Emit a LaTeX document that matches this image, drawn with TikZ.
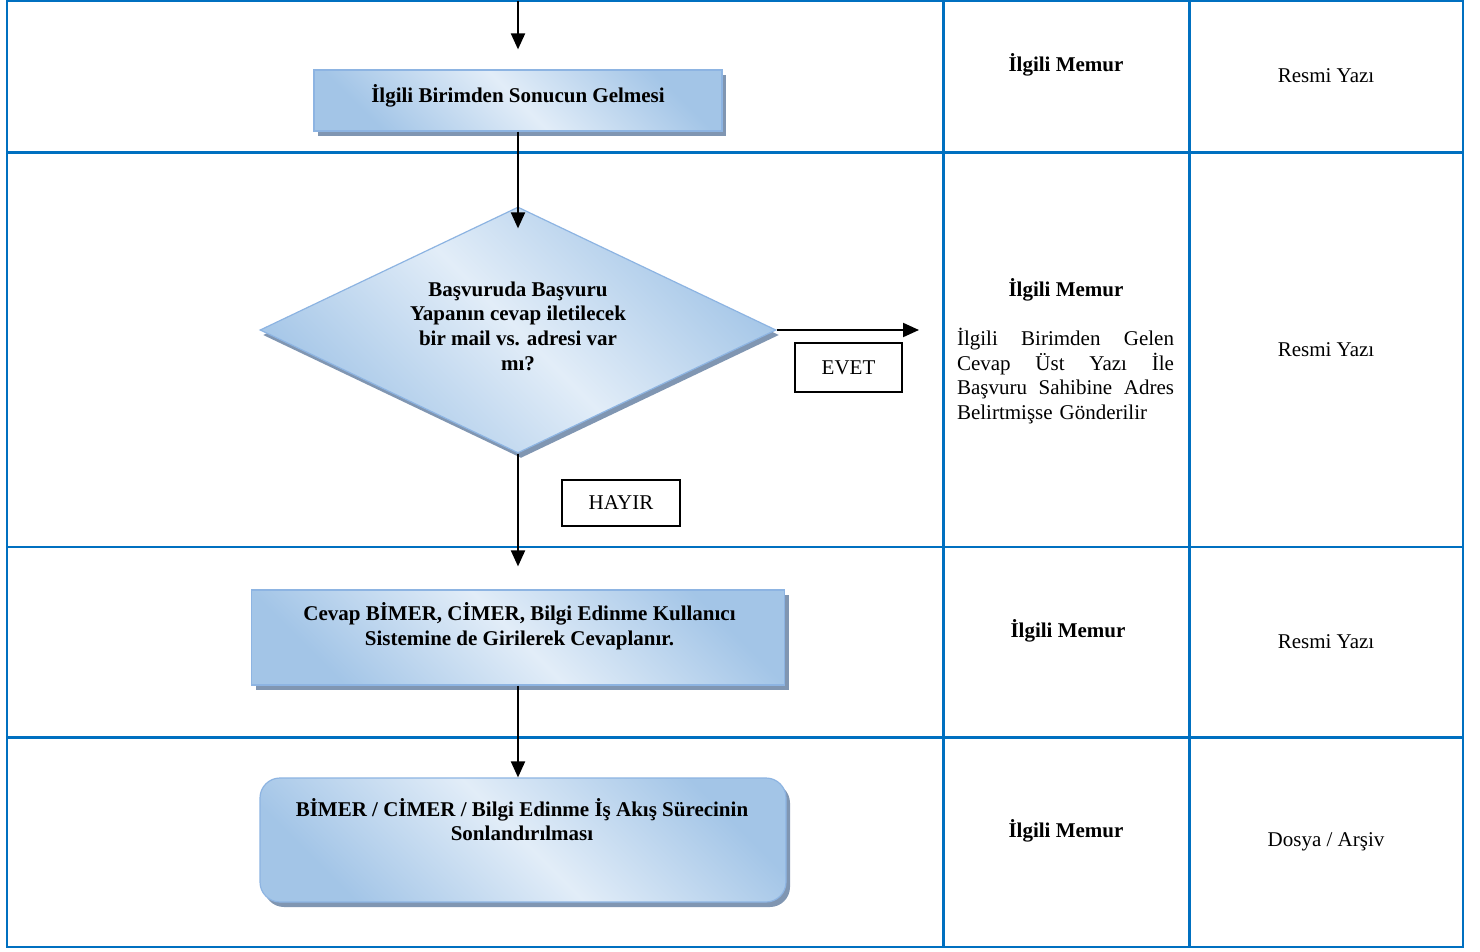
\documentclass[tikz,border=0pt]{standalone}
\usepackage{fontspec}
\setmainfont{Liberation Serif}
\usetikzlibrary{shapes.geometric,shadows,arrows.meta}
\definecolor{tblue}{HTML}{0070C0}
\definecolor{gdark}{HTML}{A3C5E7}
\definecolor{glight}{HTML}{E2EDF8}
\definecolor{gborder}{HTML}{8DB4E2}
\definecolor{gshadow}{HTML}{8096B2}
\newcommand{\jline}[1]{\leavevmode\hbox to 217pt{#1}}
\begin{document}
\begin{tikzpicture}[x=1pt,y=-1pt,
 grid/.style={draw=tblue,line width=2.2pt},
 grad/.style={top color=gdark,bottom color=gdark,middle color=glight,shading angle=-45},
 procbox/.style={grad,draw=gborder,line width=1.2pt,inner sep=0pt,
   general shadow={fill=gshadow,shadow xshift=4pt,shadow yshift=-5pt}},
 btext/.style={font=\fontsize{21pt}{24.6pt}\selectfont\bfseries,align=center,inner sep=0pt},
 ntext/.style={font=\fontsize{21pt}{24.6pt}\selectfont,align=center,inner sep=0pt},
 flow/.style={draw=black,line width=2pt,-{Triangle[length=16pt,width=14pt]}},
 labelbox/.style={ntext,draw=black,line width=1.8pt}
]
\useasboundingbox[fill=white] (0,0) rectangle (1480,952);

% table grid
\draw[grid] (7,1) rectangle (1463,947);
\draw[grid] (943.5,1) -- (943.5,947);
\draw[grid] (1189.5,1) -- (1189.5,947);
\draw[grid] (7,152.5) -- (1463,152.5);
\draw[grid] (7,547) -- (1463,547);
\draw[grid] (7,737.5) -- (1463,737.5);

% flow shapes
\node[procbox,minimum width=408pt,minimum height=61pt] (b1) at (518,100.5) {};
\node[btext] (b1t) at (518,96) {İlgili Birimden Sonucun Gelmesi};

\node[diamond,grad,draw=gborder,line width=1.2pt,inner sep=0pt,
  minimum width=516pt,minimum height=246pt,
  general shadow={fill=gshadow,shadow xshift=3pt,shadow yshift=-5pt}] (d) at (518,330) {};
\node[btext] (dt) at (518,326) {Başvuruda Başvuru\\Yapanın cevap iletilecek\\bir mail vs. adresi var\\mı?};

\node[procbox,minimum width=533pt,minimum height=95pt] (b3) at (518,637.5) {};
\node[btext] (b3t) at (519.5,626.5) {Cevap BİMER, CİMER, Bilgi Edinme Kullanıcı\\Sistemine de Girilerek Cevaplanır.};

\node[procbox,rounded corners=20pt,minimum width=526pt,minimum height=124pt] (b4) at (523,840) {};
\node[btext] (b4t) at (522,819.5) {BİMER / CİMER / Bilgi Edinme İş Akış Sürecinin\\Sonlandırılması};

\node[labelbox,minimum width=107pt,minimum height=49pt] (evet) at (848.5,367.5) {EVET};
\node[labelbox,minimum width=118pt,minimum height=46pt] (hayir) at (621,503) {HAYIR};

% connectors
\coordinate (start) at (518,1);
\coordinate (evetend) at (919,330);
\draw[flow] (start) -- ([yshift=20pt]b1.north);
\draw[flow] (b1.south) -- ([yshift=-22pt]d.north);
\draw[flow] (d.east) -- (evetend);
\draw[flow] (d.south) -- ([yshift=23pt]b3.north);
\draw[flow] (b3.south) -- (b3.south |- b4.north);

% responsible column
\node[btext] (m1) at (1066,65) {İlgili Memur};
\node[btext] (m2) at (1066,290) {İlgili Memur};
\node[ntext,text width=217pt,align=left] (p2) at (1065.5,376)
  {\jline{İlgili\hfill Birimden\hfill Gelen}\\\jline{Cevap\hfill Üst\hfill Yazı\hfill İle}\\\jline{Başvuru\hfill Sahibine\hfill Adres}\\Belirtmişse Gönderilir};
\node[btext] (m3) at (1068,631) {İlgili Memur};
\node[btext] (m4) at (1066,831) {İlgili Memur};

% document column
\node[ntext] (r1) at (1326,76) {Resmi Yazı};
\node[ntext] (r2) at (1326,350) {Resmi Yazı};
\node[ntext] (r3) at (1326,642) {Resmi Yazı};
\node[ntext] (r4) at (1326,842) {Dosya / Arşiv};
\end{tikzpicture}
\end{document}
